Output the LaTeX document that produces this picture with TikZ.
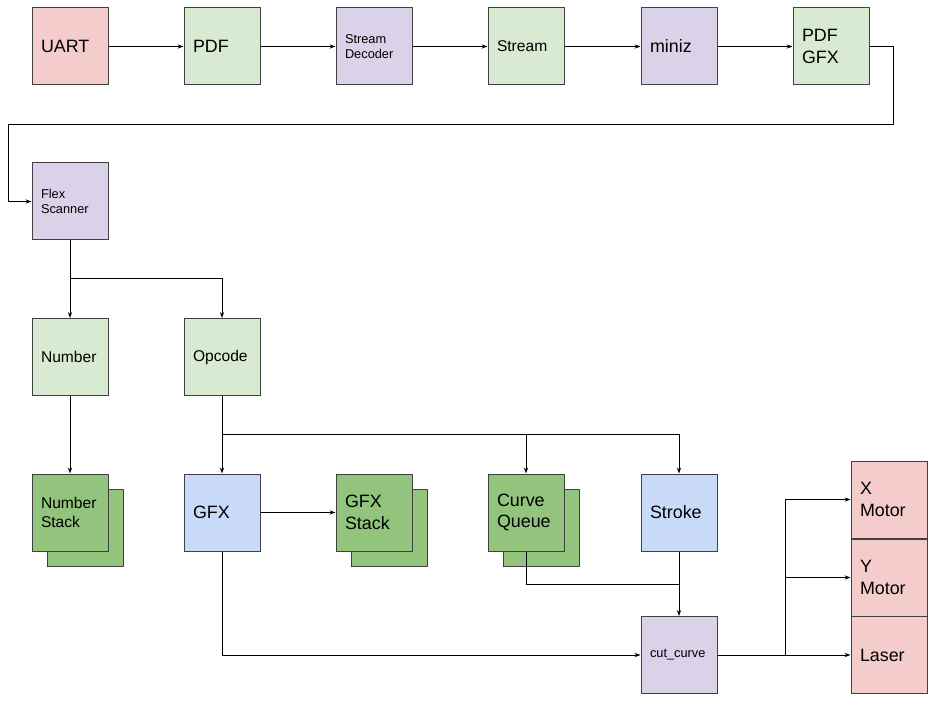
\documentclass[tikz,border=0pt]{standalone}
\usepackage{fontspec}
\setmainfont{Liberation Sans}
\usetikzlibrary{arrows.meta,shadows}

\definecolor{redfill}{HTML}{F4CCCC}
\definecolor{greenfill}{HTML}{D9EAD3}
\definecolor{purplefill}{HTML}{D9D2E9}
\definecolor{bluefill}{HTML}{C9DAF8}
\definecolor{stackfill}{HTML}{93C47D}

\begin{document}
\begin{tikzpicture}[
  x=0.75pt, y=-0.75pt,
  block/.style={
    draw=black!75,
    line width=0.75pt,
    align=left,
    text width=43.5pt,
    minimum width=57pt,
    minimum height=57.75pt,
    inner xsep=6.75pt,
    font=\fontsize{13.4}{16}\selectfont
  },
  mid/.style={font=\fontsize{11.7}{14.3}\selectfont},
  tiny/.style={font=\fontsize{9.6}{11.5}\selectfont},
  stack/.style={
    fill=stackfill,
    copy shadow={shadow xshift=11.25pt, shadow yshift=-11.25pt}
  },
  arrow/.style={-{Stealth[length=4.5pt,width=3.2pt]}, line width=0.75pt},
  wire/.style={line width=0.75pt}
]
\useasboundingbox (0,0) rectangle (936,702);

\node[block, fill=redfill] (uart) at (70,46.5) {UART};
\node[block, fill=greenfill] (pdf) at (222,46.5) {PDF};
\node[block, tiny, fill=purplefill] (decoder) at (374,46.5) {Stream\\Decoder};
\node[block, mid, fill=greenfill] (stream) at (526,46.5) {Stream};
\node[block, fill=purplefill] (miniz) at (679,46.5) {miniz};
\node[block, fill=greenfill] (pdfgfx) at (831,46.5) {PDF\\GFX};

\node[block, tiny, fill=purplefill] (flex) at (70,201.5) {Flex\\Scanner};

\node[block, mid, fill=greenfill] (number) at (70,357) {Number};
\node[block, mid, fill=greenfill] (opcode) at (222,357) {Opcode};

\node[block, mid, stack] (numstack) at (70,512.5) {Number\\Stack};
\node[block, fill=bluefill] (gfx) at (222,512.5) {GFX};
\node[block, stack] (gfxstack) at (374,512.5) {GFX\\Stack};
\node[block, stack] (curves) at (526,512.5) {Curve\\Queue};
\node[block, fill=bluefill] (stroke) at (679,512.5) {Stroke};

\node[block, tiny, fill=purplefill] (cut) at (679,655) {cut\_curve};

\node[block, fill=redfill] (xmotor) at (889,499.5) {X\\Motor};
\node[block, fill=redfill] (ymotor) at (889,577.5) {Y\\Motor};
\node[block, fill=redfill] (laser) at (889,655) {Laser};

\coordinate (turn) at (893,125);
\coordinate (split) at (70,279);
\coordinate (fork) at (222,435);
\coordinate (merge) at (679,584);
\coordinate (bus) at (785,655);

\draw[arrow] (uart) -- (pdf);
\draw[arrow] (pdf) -- (decoder);
\draw[arrow] (decoder) -- (stream);
\draw[arrow] (stream) -- (miniz);
\draw[arrow] (miniz) -- (pdfgfx);
\draw[arrow] (pdfgfx.east) -| (turn) -- (8,125) |- (flex.west);

\draw[arrow] (flex) -- (number);
\draw[arrow] (split) -| (opcode.north);
\draw[arrow] (number) -- (numstack);

\draw[arrow] (opcode) -- (gfx);
\draw[arrow] (fork) -| (curves.north);
\draw[arrow] (fork) -| (stroke.north);
\draw[arrow] (gfx) -- (gfxstack);

\draw[wire] (curves.south) |- (merge);
\draw[arrow] (stroke) -- (cut);
\draw[arrow] (gfx.south) |- (cut.west);

\draw[arrow] (cut) -- (laser);
\draw[arrow] (bus) |- (xmotor.west);
\draw[arrow] (bus) |- (ymotor.west);
\end{tikzpicture}
\end{document}
